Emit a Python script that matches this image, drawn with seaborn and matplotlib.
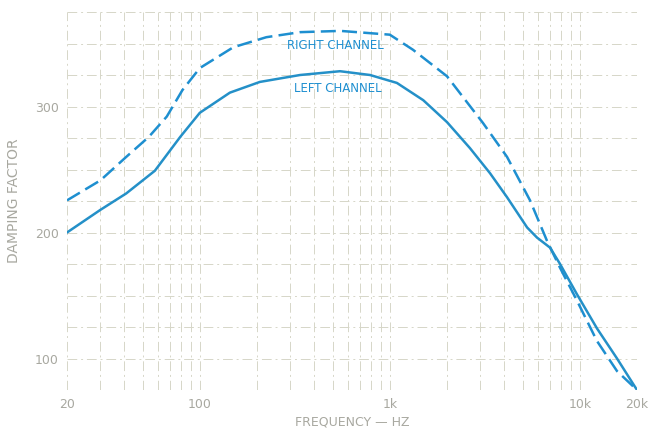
import matplotlib
matplotlib.use("Agg")
import matplotlib.pyplot as plt
import seaborn as sns
import numpy as np
import pandas as pd
from matplotlib.ticker import FixedLocator, NullFormatter

# Data
left_freq = [20, 30, 41, 58, 79, 100, 144, 207, 337, 547, 787, 1090, 1500, 2000,
             2640, 3370, 4140, 5280, 5950, 6970, 7870, 9660, 12300, 15700, 20000]
left_df = [200, 218, 231, 249, 276, 295, 311, 319.5, 325, 328, 325, 318.7, 305, 287.6,
           267, 247, 228, 204, 196, 188, 175, 151, 124, 100, 75]

right_freq = [20, 30, 41, 54, 67, 81, 100, 150, 224, 337, 550, 1000, 1325, 2000,
              3090, 4140, 5470, 6710, 7870, 9660, 12300, 15700, 20000]
right_df = [225.5, 241.4, 260, 276, 292, 313, 330.5, 347, 355, 359, 360, 357, 345, 324,
            287, 260, 225.5, 193.6, 172, 146, 114, 90, 75]

x_ticks = [20, 100, 1000, 10000, 20000]
x_tick_labels = ["20", "100", "1k", "10k", "20k"]
y_ticks = [100, 200, 300]
y_tick_labels = ["100", "200", "300"]

sns.set_style("white")
plt.rcParams['font.family'] = ['DejaVu Sans']

fig = plt.figure(figsize=(6.56, 4.29), dpi=100)
ax = fig.add_axes([67/656, 1 - 390/429, (637-67)/656, (390-12)/429])

line_color = "#1e8fd0"
dfl = pd.DataFrame({"freq": left_freq, "damping": left_df})
dfr = pd.DataFrame({"freq": right_freq, "damping": right_df})
sns.lineplot(data=dfr, x="freq", y="damping", ax=ax, color=line_color, lw=1.8,
             linestyle=(0, (6, 2.5)))
sns.lineplot(data=dfl, x="freq", y="damping", ax=ax, color="#2490c8", lw=1.8)

ax.set_xscale("log")
ax.set_xlim(20, 20000)
ax.set_ylim(75, 375)

minor = []
for dec in [10, 100, 1000, 10000]:
    for m in range(2, 10):
        v = dec * m
        if 20 <= v <= 20000:
            minor.append(v)
ax.xaxis.set_minor_locator(FixedLocator(minor))
ax.xaxis.set_minor_formatter(NullFormatter())
ax.set_xticks(x_ticks)
ax.set_xticklabels(x_tick_labels)
ax.set_yticks(np.arange(75, 376, 25), minor=True)
ax.set_yticks(y_ticks)
ax.set_yticklabels(y_tick_labels)

grid_color = "#d6d6c8"
ax.grid(True, which="both", color=grid_color, lw=0.7, linestyle=(0, (10, 4, 2, 4)))
for s in ax.spines.values():
    s.set_visible(False)
ax.tick_params(which="both", length=0, colors="#a8a8a0", labelsize=9, pad=6)

ax.set_xlabel("FREQUENCY — HZ", color="#a8a8a0", fontsize=9, labelpad=3)
ax.set_ylabel("DAMPING FACTOR", color="#a8a8a0", fontsize=10, labelpad=10)

ax.text(515, 348.7, "RIGHT CHANNEL", color=line_color, fontsize=8.5, ha="center", va="center")
ax.text(534, 314.4, "LEFT CHANNEL", color=line_color, fontsize=8.5, ha="center", va="center")

fig.savefig("out.png", dpi=100, facecolor="white")
